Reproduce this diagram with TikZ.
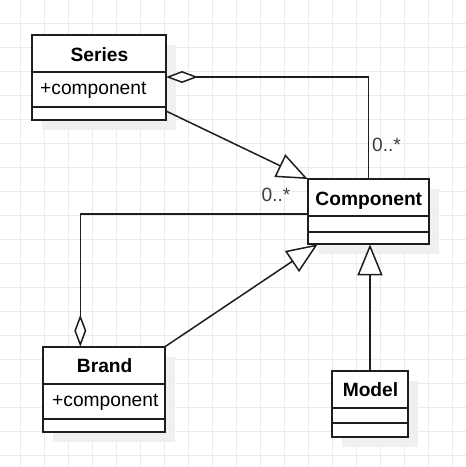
\documentclass[tikz,border=0pt]{standalone}
\usepackage{fontspec}
\setmainfont{Liberation Sans}
\usetikzlibrary{arrows.meta,calc,shadows}
\definecolor{gridc}{RGB}{235,235,235}
\definecolor{shad}{RGB}{240,240,240}
\definecolor{ink}{RGB}{30,30,30}
\begin{document}
\begin{tikzpicture}[x=1pt,y=-1pt,
 cls/.style={draw=ink, line width=1.8pt, fill=white, inner sep=0pt, outer sep=0pt,
   drop shadow={shadow xshift=10pt, shadow yshift=-10pt, fill=shad, draw=none, opacity=1}},
 sepline/.style={draw=ink, line width=1.8pt},
 ttl/.style={font=\fontsize{19.2}{23}\selectfont\bfseries, anchor=base, inner sep=0pt},
 attr/.style={font=\fontsize{19.2}{23}\selectfont, anchor=base west, inner sep=0pt},
 mult/.style={font=\fontsize{19.2}{23}\selectfont, text=ink!85, inner sep=0pt},
 conn/.style={draw=ink, line width=1.5pt},
 gen/.style={conn, -{Triangle[length=31pt, width=25pt, fill=white]}},
 agg/.style={conn, {Diamond[length=32pt, width=12pt, fill=white]}-},
]
\useasboundingbox (0,0) rectangle (466,467);
\fill[white] (0,0) rectangle (466,467);
% grid
\foreach \i in {0,...,18} {
  \draw[gridc, line width=1pt] (20.7+24*\i,0) -- (20.7+24*\i,467);
  \draw[gridc, line width=1pt] (0,23.3+24*\i) -- (466,23.3+24*\i);
}
% classes
\node[cls, minimum width=134pt, minimum height=85pt] (series) at (99,77.5) {};
\draw[sepline] ($(series.north west)+(0,37.3)$) -- ($(series.north east)+(0,37.3)$);
\draw[sepline] ($(series.north west)+(0,71.7)$) -- ($(series.north east)+(0,71.7)$);
\node[ttl] (seriesT) at (99.5,61) {Series};
\node[attr] (seriesA) at (40,94) {+component};

\node[cls, minimum width=121.6pt, minimum height=65.3pt] (comp) at (368.5,211.65) {};
\draw[sepline] ($(comp.north west)+(0,37)$) -- ($(comp.north east)+(0,37)$);
\draw[sepline] ($(comp.north west)+(0,52.7)$) -- ($(comp.north east)+(0,52.7)$);
\node[ttl] (compT) at (368.8,205) {Component};

\node[cls, minimum width=121.7pt, minimum height=85pt] (brand) at (104.15,389.2) {};
\draw[sepline] ($(brand.north west)+(0,37.3)$) -- ($(brand.north east)+(0,37.3)$);
\draw[sepline] ($(brand.north west)+(0,72.3)$) -- ($(brand.north east)+(0,72.3)$);
\node[ttl] (brandT) at (104.7,372.7) {Brand};
\node[attr] (brandA) at (52,406) {+component};

\node[cls, minimum width=76.6pt, minimum height=66pt] (model) at (370,403.7) {};
\draw[sepline] ($(model.north west)+(0,37.6)$) -- ($(model.north east)+(0,37.6)$);
\draw[sepline] ($(model.north west)+(0,52)$) -- ($(model.north east)+(0,52)$);
\node[ttl] (modelT) at (370.5,396) {Model};

% connectors
\draw[agg] ($(series.north east)+(0,42)$) -| (comp.north);
\node[mult] (m1) at (386.5,145) {0..*};
\draw[gen] ($(series.south east)+(0,-9)$) -- (comp.north west);
\draw[agg] ($(brand.north west)+(37,0)$) |- ($(comp.north west)+(0,35)$);
\node[mult] (m2) at (276,195) {0..*};
\draw[gen] (brand.north east) -- ($(comp.south west)+(10,0)$);
\draw[gen] (model.north) -- (model.north |- comp.south);
\end{tikzpicture}
\end{document}
